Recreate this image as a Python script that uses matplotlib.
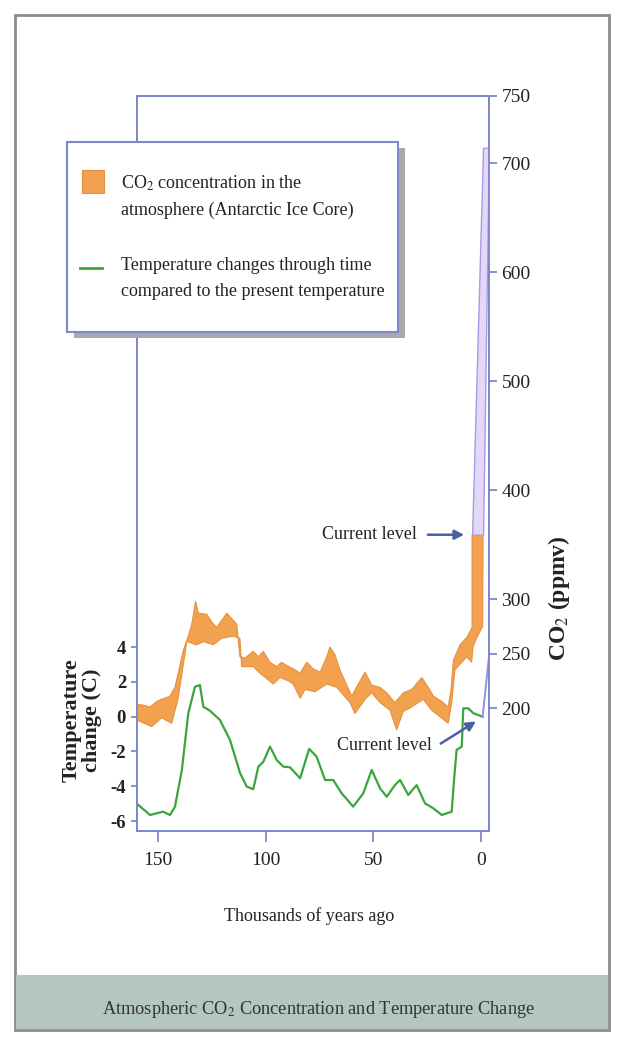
import numpy as np
import matplotlib.pyplot as plt
from matplotlib.patches import Rectangle
from matplotlib.lines import Line2D

plt.rcParams['font.family'] = ['Liberation Serif', 'DejaVu Serif']
plt.rcParams['mathtext.fontset'] = 'stix'

# temperature change vs present (thousands of years ago, deg C)
temp_kyr = [160.3, 153.8, 147.8, 144.5, 142.2, 139.0, 136.0, 132.9, 130.6, 129.0,
            125.9, 121.3, 116.6, 111.9, 108.8, 105.8, 103.4, 101.1, 98.0, 94.9,
            91.8, 88.7, 84.0, 79.8, 76.3, 72.4, 68.6, 64.7, 59.3, 54.6,
            50.7, 46.8, 43.7, 39.9, 37.5, 33.7, 29.8, 25.9, 22.0, 18.1,
            13.5, 12.4, 11.2, 8.8, 8.1, 5.8, 3.4, -0.9]
temp_c = [-4.96, -5.65, -5.46, -5.65, -5.17, -3.06, 0.20, 1.72, 1.82, 0.57,
          0.34, -0.19, -1.34, -3.25, -4.02, -4.17, -2.87, -2.59, -1.72, -2.49,
          -2.87, -2.91, -3.54, -1.85, -2.30, -3.64, -3.64, -4.40, -5.17, -4.40,
          -3.06, -4.12, -4.60, -3.93, -3.64, -4.50, -3.93, -4.98, -5.27, -5.65,
          -5.46, -3.64, -1.91, -1.72, 0.48, 0.48, 0.20, 0.0]

# CO2 band (Antarctic ice core), upper edge
co2_top_kyr = [160.0, 157.7, 153.8, 150.7, 148.4, 144.5, 142.2, 138.3, 136.0, 134.4,
               132.6, 131.3, 127.4, 125.1, 122.8, 118.1, 115.8, 113.5, 112.0, 109.6,
               105.8, 103.4, 101.1, 98.0, 94.9, 92.6, 90.2, 87.2, 84.0, 80.9,
               77.9, 74.7, 71.6, 70.1, 67.8, 65.5, 60.0, 53.8, 50.7, 46.8,
               43.7, 39.9, 36.0, 32.1, 27.4, 24.4, 22.0, 18.1, 15.1, 13.8,
               12.7, 9.6, 6.4, 4.0, 4.0, -1.1]
co2_top_ppm = [203, 203, 201, 206, 208, 211, 219, 253, 266, 277,
               298, 287, 286, 279, 274, 287, 282, 277, 247, 246,
               252, 247, 252, 242, 238, 242, 239, 236, 232, 242,
               236, 233, 247, 256, 249, 235, 211, 233, 221, 219,
               214, 205, 214, 217, 228, 219, 211, 206, 201, 217,
               244, 258, 265, 274, 359, 359]
# CO2 band, lower edge
co2_bot_kyr = [160.0, 157.7, 153.0, 148.4, 143.7, 143.0, 140.8, 136.7, 132.1, 129.0,
               124.4, 120.5, 115.1, 112.0, 111.2, 105.8, 102.7, 99.5, 96.5, 93.3,
               89.5, 87.2, 84.0, 81.7, 77.1, 71.6, 67.0, 60.8, 58.5, 53.8,
               50.7, 46.8, 42.2, 39.1, 36.0, 32.9, 30.6, 26.7, 22.8, 18.9,
               15.1, 13.5, 12.0, 6.5, 4.2, 3.6, 1.7, -0.9, -1.1]
co2_bot_ppm = [189, 187, 183, 191, 186, 192, 208, 261, 258, 261,
               258, 264, 266, 264, 238, 238, 232, 227, 222, 228,
               225, 222, 209, 217, 215, 222, 219, 205, 195, 208,
               214, 205, 198, 180, 197, 200, 203, 208, 198, 192,
               186, 205, 235, 247, 242, 256, 265, 275, 359]

# projected rise (purple)
proj_ppm = [359, 714]
proj_left_kyr = [4.0, -1.1]
proj_right_kyr = [-1.1, -3.8]
proj_temp_kyr = [-0.9, -3.8]
proj_temp_c = [0.0, 3.4]

temp_ticks = [-6, -4, -2, 0, 2, 4]
co2_ticks = [200, 250, 300, 400, 500, 600, 700, 761.5]
co2_ticklabels = ['200', '250', '300', '400', '500', '600', '700', '750']
kyr_ticks = [150, 100, 50, 0]

W, H = 620, 1038
spine_c = '#7d88cc'
orange = '#f2a24e'
green = '#3aa53a'
arrow_c = '#4a5ea4'

fig = plt.figure(figsize=(W / 100, H / 100), dpi=100)
fig.patch.set_facecolor('white')

def fx(px):
    return px / W

def fy(py):
    return 1 - py / H

# outer frame and bottom banner
fig.patches.append(Rectangle((fx(15), fy(1030)), fx(594), 1015 / H, transform=fig.transFigure,
                             facecolor='white', edgecolor='#8c8c8c', lw=2, zorder=-2))
fig.patches.append(Rectangle((fx(16), fy(1029)), fx(592), 54 / H, transform=fig.transFigure,
                             facecolor='#b5c5c1', edgecolor='none', zorder=-1))
fig.text(fx(318), fy(1010), r'Atmospheric CO$_2$ Concentration and Temperature Change',
         ha='center', va='center', fontsize=13.2, color='#333333')

ax = fig.add_axes([fx(136.5), fy(831), fx(489 - 136.5), 735 / H])
ax.set_facecolor('none')
ax2 = ax.twinx()

ax.set_xlim(160.1, -3.86)
ax.set_ylim(-6.57, 35.67)
ax2.set_ylim(87.2, 761.5)

# CO2 band polygon
band_x = np.concatenate([co2_top_kyr, co2_bot_kyr[::-1]])
band_y = np.concatenate([co2_top_ppm, co2_bot_ppm[::-1]])
ax2.fill(band_x, band_y, facecolor=orange, edgecolor='#e8903f', lw=0.8, zorder=2)

# projection column
ax2.fill_betweenx(proj_ppm, proj_left_kyr, proj_right_kyr,
                  facecolor='#e3d8f7', edgecolor='#a99be3', lw=1.0, zorder=2)

# temperature curve
ax.plot(temp_kyr, temp_c, color=green, lw=1.6, zorder=3, solid_joinstyle='round')
ax.plot(proj_temp_kyr, proj_temp_c, color='#9b8fe0', lw=1.4, zorder=3, clip_on=False)

for a in (ax, ax2):
    for s in a.spines.values():
        s.set_color(spine_c)
        s.set_linewidth(1.3)

ax.set_xticks(kyr_ticks)
ax.set_xticklabels([str(k) for k in kyr_ticks])
ax.set_yticks(temp_ticks)
ax.set_yticklabels([str(t) for t in temp_ticks], fontweight='bold')
ax.tick_params(axis='x', direction='out', length=8, width=1.3, color=spine_c,
               labelsize=14, pad=7, labelcolor='#222222')
ax.tick_params(axis='y', direction='out', length=4.5, width=1.3, color=spine_c,
               labelsize=13.5, pad=3, labelcolor='#222222')
ax2.set_yticks(co2_ticks)
ax2.set_yticklabels(co2_ticklabels)
ax2.tick_params(axis='y', direction='out', length=6, width=1.3, color=spine_c,
                labelsize=14, pad=3, labelcolor='#222222')

fig.text(fx(309), fy(916), 'Thousands of years ago', ha='center', va='center',
         fontsize=13, color='#222222')
fig.text(fx(82), fy(720), 'Temperature\nchange (C)', ha='center', va='center',
         rotation=90, fontsize=16, fontweight='bold', color='#222222', linespacing=1.0)
fig.text(fx(559), fy(598), r'CO$_2$ (ppmv)', ha='center', va='center',
         rotation=90, fontsize=17, fontweight='bold', color='#222222')

# current level annotations
ax2.text(29.8, 359, 'Current level', ha='right', va='center', fontsize=13, color='#222222')
ax2.annotate('', xy=(6.4, 359), xytext=(25.9, 359),
             arrowprops=dict(arrowstyle='-|>', color=arrow_c, lw=1.8, mutation_scale=14))
ax.text(22.7, -1.63, 'Current level', ha='right', va='center', fontsize=13, color='#222222')
ax.annotate('', xy=(1.1, -0.19), xytext=(19.7, -1.63),
            arrowprops=dict(arrowstyle='-|>', color=arrow_c, lw=1.8, mutation_scale=14))

# legend box with drop shadow
fig.patches.append(Rectangle((fx(74), fy(338)), fx(331.3), 190 / H, transform=fig.transFigure,
                             facecolor='#a9a9ad', edgecolor='none', zorder=4))
fig.patches.append(Rectangle((fx(66.7), fy(331.7)), fx(331.3), 190 / H, transform=fig.transFigure,
                             facecolor='white', edgecolor=spine_c, lw=1.5, zorder=5))
fig.patches.append(Rectangle((fx(82), fy(193)), fx(22), 23 / H, transform=fig.transFigure,
                             facecolor=orange, edgecolor='#e8903f', lw=0.8, zorder=6))
fig.lines.append(Line2D([fx(80), fx(102)], [fy(268), fy(268)], transform=fig.transFigure,
                        color=green, lw=2, zorder=6))
legend_lines = [r'CO$_2$ concentration in the', 'atmosphere (Antarctic Ice Core)',
                'Temperature changes through time', 'compared to the present temperature']
for txt, py in zip(legend_lines, [183, 210, 265, 292]):
    fig.text(fx(121), fy(py), txt, ha='left', va='center', fontsize=13,
             color='#222222', zorder=7)

fig.savefig('out.png', dpi=100)
